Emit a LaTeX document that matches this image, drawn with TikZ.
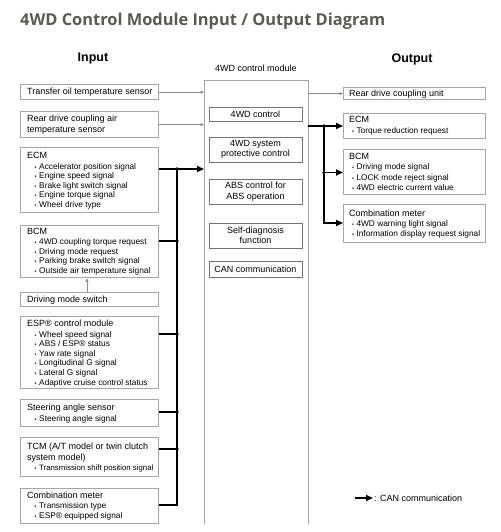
\documentclass[tikz,border=0pt]{standalone}
\usepackage{fontspec}
\setmainfont{Liberation Sans}
\newfontfamily\titlefont{Open Sans}
\usetikzlibrary{arrows.meta}
\definecolor{titlec}{HTML}{5C5955}
\newcommand\fl{\rule{0pt}{7pt}}
\newcommand\bl{\hspace*{7.5pt}{\fontsize{5.5}{5}\selectfont\textbullet}\hspace{2.6pt}\fontsize{8.3}{9.6}\selectfont}
\newcommand\br{\hspace*{3pt}{\fontsize{5.5}{5}\selectfont\textbullet}\hspace{2.4pt}\fontsize{8.3}{9.6}\selectfont}
\newcommand\IOBox[5]{\node[iobox, anchor=north west, minimum width={(#4)-(#2)}, minimum height={(#5)-(#3)}] (#1) at (#2,#3) {};}
\begin{document}
\begin{tikzpicture}[x=1pt,y=-1pt,
  iobox/.style={draw=black!35, line width=1.3pt, inner sep=0pt, fill=white},
  cbox/.style={draw=black!55, line width=0.6pt, inner sep=0pt, minimum width=93pt, align=center, font=\fontsize{9}{10.4}\selectfont},
  lbl/.style={anchor=north west, inner sep=0pt, align=left, font=\fontsize{9}{9.6}\selectfont},
  head/.style={inner sep=0pt, font=\fontsize{12.5}{14}\selectfont\bfseries},
  thin/.style={draw=black!45, line width=0.6pt, -{Triangle[length=3.5pt,width=3pt]}},
  can/.style={draw=black, line width=1.6pt},
  canarr/.style={can, -{Triangle[length=7pt,width=6pt]}},
  dot/.style={circle, fill=black, inner sep=0pt, minimum size=3.8pt}]
\useasboundingbox (0,0) rectangle (500,532);

% title and headers
\node[anchor=base west, inner sep=0pt, text=titlec] (title) at (20,26)
  {\resizebox{365pt}{!}{\titlefont\bfseries\fontsize{17}{17}\selectfont 4WD Control Module Input / Output Diagram}};
\node[head] (hin) at (93,58) {Input};
\node[head] (hout) at (412,59) {Output};

% module
\node[inner sep=0pt, anchor=north west, minimum width=104pt, minimum height=443pt] (mod) at (204,81) {};
\draw[draw=black!35, line width=1pt] (mod.south west) -- (mod.north west) -- (mod.north east) -- (mod.south east);
\node[inner sep=0pt, font=\fontsize{9}{10}\selectfont] (mlabel) at (256,68) {4WD control module};
\node[cbox, minimum height=14pt] (c1) at (255.5,114) {4WD control};
\node[cbox, minimum height=25pt] (c2) at (255.5,149.5) {4WD system\\protective control};
\node[cbox, minimum height=25pt] (c3) at (255.5,191.5) {ABS control for\\ABS operation};
\node[cbox, minimum height=25pt] (c4) at (255.5,235.5) {Self-diagnosis\\function};
\node[cbox, minimum height=16pt] (c5) at (255.5,269) {CAN communication};

% input boxes
\IOBox{tos}{20}{84}{158}{99}
\IOBox{rdc}{20}{111}{158}{137}
\IOBox{ecm}{20}{147}{158}{212}
\IOBox{bcm}{20}{225}{158}{277}
\IOBox{dms}{20}{292}{158}{306}
\IOBox{esp}{20}{316}{158}{388}
\IOBox{sas}{20}{399}{158}{426}
\IOBox{tcm}{20}{437}{158}{476}
\IOBox{cmi}{20}{488}{158}{523}

\node[lbl] (t-tos) at (27,87.7) {\fl Transfer oil temperature sensor};
\node[lbl] (t-rdc) at (27,114.4) {\fl Rear drive coupling air\\[0.8pt]temperature sensor};
\node[lbl] (t-ecm) at (27,151.2) {\fl ECM\\[1.1pt]\bl Accelerator position signal\\\bl Engine speed signal\\\bl Brake light switch signal\\\bl Engine torque signal\\\bl Wheel drive type};
\node[lbl] (t-bcm) at (27,226.9) {\fl BCM\\[0.8pt]\bl 4WD coupling torque request\\\bl Driving mode request\\\bl Parking brake switch signal\\\bl Outside air temperature signal};
\node[lbl] (t-dms) at (27,295.2) {\fl Driving mode switch};
\node[lbl] (t-esp) at (27,319.2) {\fl ESP® control module\\[1.1pt]\bl Wheel speed signal\\\bl ABS / ESP® status\\\bl Yaw rate signal\\\bl Longitudinal G signal\\\bl Lateral G signal\\\bl Adaptive cruise control status};
\node[lbl] (t-sas) at (27,403.5) {\fl Steering angle sensor\\[0.8pt]\bl Steering angle signal};
\node[lbl] (t-tcm) at (27,442.2) {\fl TCM (A/T model or twin clutch\\[1pt]system model)\\[1.2pt]\bl\fontsize{7.8}{9.6}\selectfont Transmission shift position signal};
\node[lbl] (t-cmi) at (27,491.2) {\fl Combination meter\\[0.8pt]\bl Transmission type\\\bl ESP® equipped signal};

% output boxes
\IOBox{rdu}{343}{87}{485}{99}
\IOBox{recm}{343}{113}{485}{138}
\IOBox{rbcm}{343}{149}{485}{194}
\IOBox{rcm}{343}{204}{485}{242}

\node[lbl] (t-rdu) at (349,89.2) {\fl Rear drive coupling unit};
\node[lbl] (t-recm) at (349,115.2) {\fl ECM\\[1pt]\br Torque reduction request};
\node[lbl, font=\fontsize{9}{10.4}\selectfont] (t-rbcm) at (349,152.2) {\fl BCM\\\br Driving mode signal\\\br LOCK mode reject signal\\\br 4WD electric current value};
\node[lbl] (t-rcm) at (349,209.2) {\fl Combination meter\\[0.6pt]\br 4WD warning light signal\\\br Information display request signal};

% bus coordinates
\coordinate (b1) at (177,169);
\coordinate (b2) at (177,241);
\coordinate (b3) at (177,334);
\coordinate (b4) at (177,412);
\coordinate (b5) at (177,449);
\coordinate (b6) at (177,505);
\coordinate (r1) at (324,126);
\coordinate (r2) at (324,172.5);
\coordinate (r3) at (324,223);

% thin connectors
\draw[thin] (tos.east) -- (tos.east -| mod.west);
\draw[thin] (rdc.east) -- (rdc.east -| mod.west);
\draw[thin] (mod.east |- rdu.west) -- (rdu.west);
\draw[thin] (dms.north -| 87,0) -- (bcm.south -| 87,0);

% CAN input bus
\draw[canarr] (ecm.east |- b1) -- (mod.west |- b1);
\draw[can] (cmi.east |- b6) -- (b6) -- (b1);
\draw[can] (bcm.east |- b2) -- (b2);
\draw[can] (esp.east |- b3) -- (b3);
\draw[can] (sas.east |- b4) -- (b4);
\draw[can] (tcm.east |- b5) -- (b5);
\foreach \p in {b1,b2,b3,b4,b5} \node[dot] at (\p) {};

% CAN output bus
\draw[canarr] (mod.east |- r1) -- (recm.west |- r1);
\draw[canarr] (r1) -- (r3) -- (rcm.west |- r3);
\draw[canarr] (r2) -- (rbcm.west |- r2);
\foreach \p in {r1,r2} \node[dot] at (\p) {};

% legend
\coordinate (lg1) at (355,498);
\coordinate (lg2) at (373,498);
\draw[canarr] (lg1) -- (lg2);
\node[anchor=west, inner sep=0pt, font=\fontsize{9}{10}\selectfont] (lgt) at (374,498) {: CAN communication};
\end{tikzpicture}
\end{document}
